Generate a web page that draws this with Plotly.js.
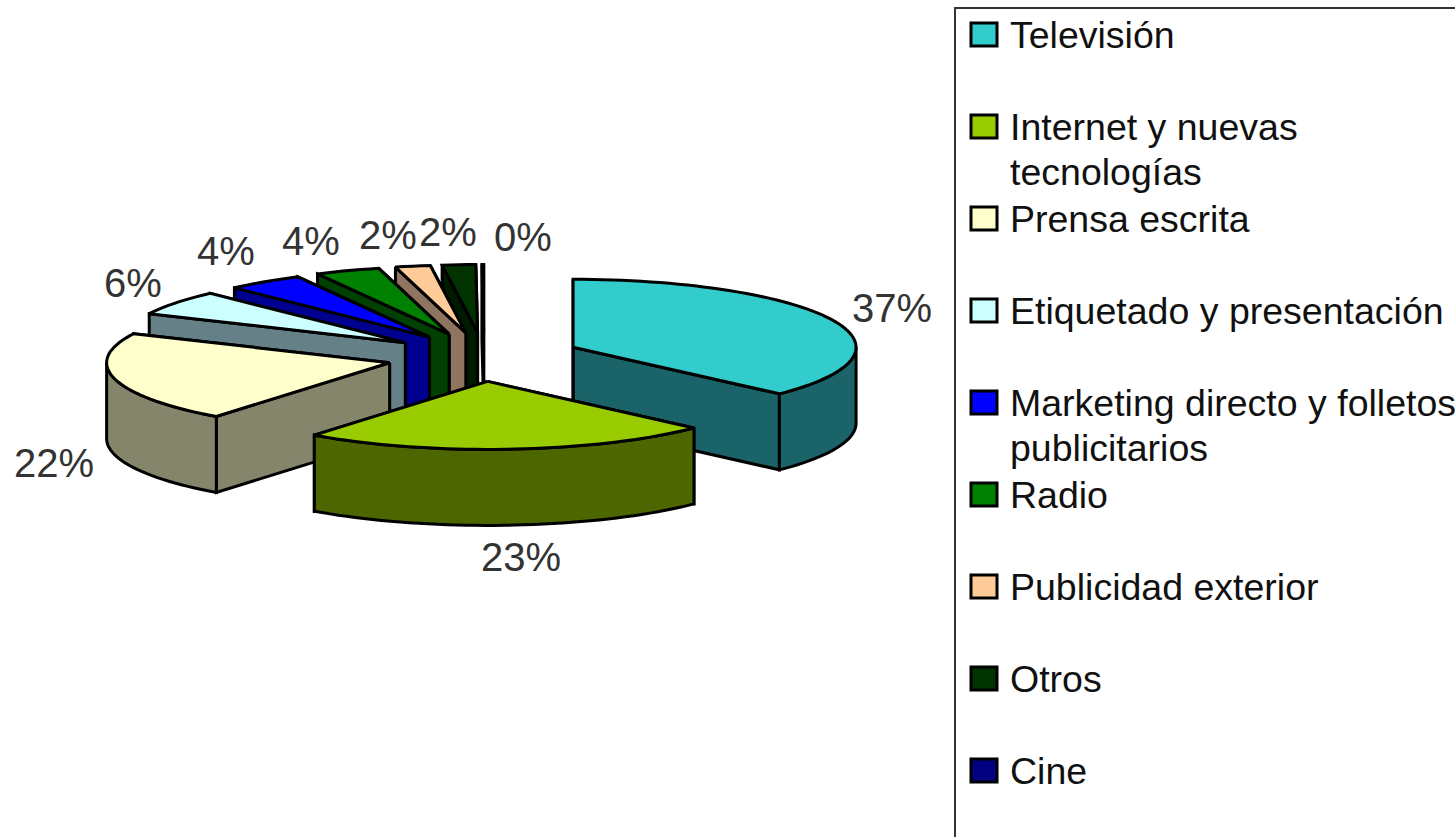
<!DOCTYPE html>
<html>
<head>
<meta charset="utf-8">
<script src="https://cdn.plot.ly/plotly-3.0.1.min.js"></script>
<style>html,body{margin:0;padding:0;background:#fff;overflow:hidden}#chart{width:1455px;height:837px}</style>
</head>
<body>
<div id="chart"></div>
<script>
// Data
const categories = ["Televisión","Internet y nuevas<br>tecnologías","Prensa escrita","Etiquetado y presentación","Marketing directo y folletos<br>publicitarios","Radio","Publicidad exterior","Otros","Cine"];
const shares = [37.0,23.49,21.51,5.9,4.4,3.7,2.0,1.9,0.1];

// Styling
const topColors  = ["#33CCCC","#99CC00","#FFFFCC","#CCFFFF","#0000FF","#008000","#FFCC99","#003300","#000080"];
const wallColors = ["#1A6469","#4D6600","#85856B","#668087","#000090","#004000","#8F7460","#001A00","#000040"];
const drawOrder  = [8,7,6,5,4,3,2,0,1];
const labelPos = [[892,308],[521,557],[54,463],[133,283],[226,251],[311,241],[388,235],[448,232],[523,237]];
const apexNudgeX = [0,-4,0,0,2,0,0,0,0];

// Pie geometry in axis units
const G = {cx:484, cy:357, rx:283, ry:68, depth:76, ex:0.343, ey:0.36};
const OUTLINE = {color:"#000", width:3};

const total = shares.reduce((a,b)=>a+b,0);
const rad = d => d*Math.PI/180;
function rim(c,t){return [c[0]+G.rx*Math.sin(rad(t)), c[1]-G.ry*Math.cos(rad(t))];}
function arc(c,a,b){
  const p=[]; const n=Math.max(1,Math.ceil((b-a)/2));
  for(let i=0;i<=n;i++) p.push(rim(c,a+(b-a)*i/n));
  return p;
}
function poly(pts,fill){
  return {type:"scatter",mode:"lines",x:pts.map(p=>p[0]),y:pts.map(p=>p[1]),fill:"toself",fillcolor:fill,
    line:{color:OUTLINE.color,width:OUTLINE.width,simplify:false},hoverinfo:"skip",showlegend:false};
}
const down = p => [p[0],p[1]+G.depth];
let acc=0;
const slices = shares.map(v=>{const a=acc/total*360; acc+=v; return {a:a,b:acc/total*360};});
const traces=[];
drawOrder.forEach(i=>{
  const {a,b}=slices[i], mid=(a+b)/2;
  const c=[G.cx+G.ex*G.rx*Math.sin(rad(mid))+apexNudgeX[i], G.cy-G.ey*G.ry*Math.cos(rad(mid))];
  // cut faces
  [b,a].forEach(t=>{
    const e=rim(c,t);
    traces.push(poly([c,e,down(e),down(c),c],wallColors[i]));
  });
  // outer curved wall: only the part facing the viewer
  const s=Math.max(a,90), f=Math.min(b,270);
  if(f>s){
    const o=arc(c,s,f);
    traces.push(poly(o.concat(o.slice().reverse().map(down)).concat([o[0]]),wallColors[i]));
  }
  // top face
  traces.push(poly([c].concat(arc(c,a,b)).concat([c]),topColors[i]));
});

const FONT="'Liberation Sans', Arial, sans-serif";
const annotations=[], shapes=[];
shares.forEach((v,i)=>{
  annotations.push({x:labelPos[i][0],y:labelPos[i][1],xref:"x",yref:"y",showarrow:false,xanchor:"center",yanchor:"middle",
    text:Math.round(v/total*100)+"%",font:{family:FONT,size:40,color:"#333"}});
});
// Legend
const LEG={x0:955,y0:8,keyX0:971,keyX1:997,keyH:23,textX:1008,first:34.5,step:92,line:45.5,size:37.5};
shapes.push({type:"rect",xref:"x",yref:"y",x0:LEG.x0,y0:LEG.y0,x1:1475,y1:860,line:{color:"#333",width:2},fillcolor:"rgba(0,0,0,0)",layer:"below"});
categories.forEach((name,i)=>{
  const yc=LEG.first+LEG.step*i;
  shapes.push({type:"rect",xref:"x",yref:"y",x0:LEG.keyX0,x1:LEG.keyX1,y0:yc-LEG.keyH/2,y1:yc+LEG.keyH/2,fillcolor:topColors[i],line:{color:"#000",width:3}});
  name.split("<br>").forEach((t,j)=>{
    annotations.push({x:LEG.textX,y:yc+j*LEG.line,xref:"x",yref:"y",showarrow:false,xanchor:"left",yanchor:"middle",
      text:t,font:{family:FONT,size:LEG.size,color:"#111"}});
  });
});

Plotly.newPlot("chart",traces,{
  width:1455,height:837,margin:{l:0,r:0,t:0,b:0},paper_bgcolor:"#fff",plot_bgcolor:"#fff",showlegend:false,hovermode:false,
  xaxis:{range:[0,1455],visible:false,fixedrange:true},
  yaxis:{range:[837,0],visible:false,fixedrange:true},
  shapes:shapes,annotations:annotations
},{displayModeBar:false,staticPlot:true});
</script>
</body>
</html>
